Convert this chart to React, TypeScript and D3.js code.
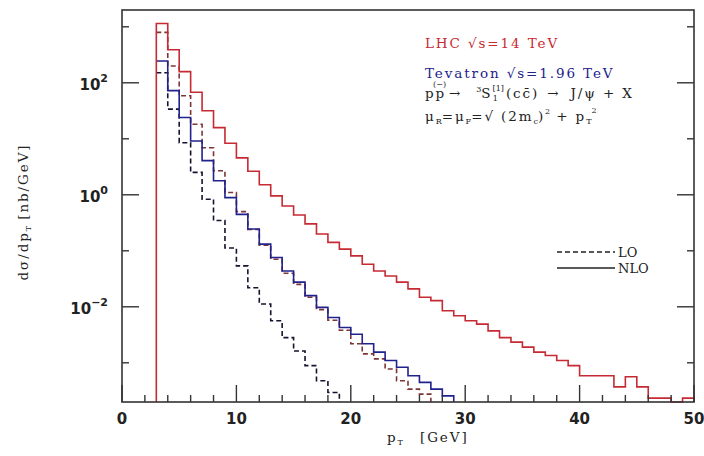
import React from 'react';
import * as d3 from 'd3';

// first bin starts at pT = 3 GeV, bins are 1 GeV wide
const binStart = 3;

// log10 of dσ/dpT [nb/GeV]
const lhcNlo = [3.06, 2.59, 2.2, 1.83, 1.5, 1.2, 0.92, 0.66, 0.42, 0.18, -0.02, -0.2, -0.36, -0.52, -0.7, -0.85, -0.97, -1.09, -1.24, -1.36, -1.45, -1.56, -1.68, -1.83, -1.89, -2.07, -2.16, -2.25, -2.31, -2.43, -2.55, -2.63, -2.72, -2.81, -2.87, -2.96, -3.05, -3.23, -3.23, -3.23, -3.43, -3.25, -3.43, -3.63, -3.63, -4.0, -3.63];
const lhcLo = [2.9, 2.3, 1.77, 1.26, 0.84, 0.43, 0.04, -0.3, -0.62, -0.9, -1.15, -1.4, -1.6, -1.83, -2.05, -2.24, -2.42, -2.66, -2.84, -2.93, -3.11, -3.32, -3.47, -3.56];
const tevNlo = [2.39, 1.86, 1.38, 0.96, 0.61, 0.25, -0.05, -0.35, -0.61, -0.88, -1.12, -1.36, -1.56, -1.8, -2.01, -2.19, -2.37, -2.49, -2.66, -2.81, -2.96, -3.08, -3.23, -3.35, -3.47, -3.59];
const tevLo = [2.18, 1.53, 0.93, 0.4, -0.08, -0.46, -0.95, -1.27, -1.66, -1.95, -2.25, -2.55, -2.79, -3.05, -3.32, -3.53];

const xMajor = [0, 10, 20, 30, 40, 50];
const xMinor = d3.range(2, 50, 2).filter(v => v % 10 !== 0);
const yMajor = [2, 0, -2];
const yMinor = [3, 1, -1, -3];

const W = 704, H = 456;
const L = 122, R = 694, T = 10, B = 402;

const RED = '#c62a32';
const BLUE = '#22228c';
const LHC_LO = '#7d3535';
const TEV_LO = '#141430';

const serif = '"DejaVu Serif", serif';
const sans = '"DejaVu Sans", sans-serif';

function App() {
  const x = d3.scaleLinear().domain([0, 50]).range([L, R]);
  const y = d3.scaleLog().domain([Math.pow(10, -3.7), Math.pow(10, 3.3)]).range([B, T]).clamp(true);

  const stepPath = (vals: number[], fromAxis: boolean) => {
    const pts: [number, number][] = fromAxis ? [[binStart, -10]] : [];
    vals.forEach((v, i) => pts.push([binStart + i, v]));
    pts.push([binStart + vals.length, -10]);
    const line = d3.line<[number, number]>()
      .x(d => x(d[0]))
      .y(d => y(Math.pow(10, d[1])))
      .curve(d3.curveStepAfter);
    return line(pts) || '';
  };

  const lbl = { fontFamily: serif, fontSize: 13.5, letterSpacing: 1.9 };
  const small = { fontSize: 8, letterSpacing: 0 };

  return (
    <svg width={W} height={H} style={{ position: 'absolute', left: 0, top: 0, background: '#fff' }}>
      <rect x={0} y={0} width={W} height={H} fill="#fff" />

      {/* histograms */}
      <g fill="none" strokeWidth={1.6}>
        <path d={stepPath(tevLo, false)} stroke={TEV_LO} strokeDasharray="5,3" />
        <path d={stepPath(lhcLo, false)} stroke={LHC_LO} strokeDasharray="5,3" />
        <path d={stepPath(tevNlo, false)} stroke={BLUE} />
        <path d={stepPath(lhcNlo, true)} stroke={RED} />
      </g>

      {/* frame */}
      <rect x={L} y={T} width={R - L} height={B - T} fill="none" stroke="#333" strokeWidth={1.6} />

      {/* ticks */}
      <g stroke="#333" strokeWidth={1.4}>
        {xMajor.map(v => <line key={'xm' + v} x1={x(v)} x2={x(v)} y1={B} y2={B - 17} />)}
        {xMinor.map(v => <line key={'xn' + v} x1={x(v)} x2={x(v)} y1={B} y2={B - 7} />)}
        {yMajor.map(v => (
          <g key={'ym' + v}>
            <line x1={L} x2={L + 17} y1={y(Math.pow(10, v))} y2={y(Math.pow(10, v))} />
            <line x1={R} x2={R - 17} y1={y(Math.pow(10, v))} y2={y(Math.pow(10, v))} />
          </g>
        ))}
        {yMinor.map(v => (
          <g key={'yn' + v}>
            <line x1={L} x2={L + 7} y1={y(Math.pow(10, v))} y2={y(Math.pow(10, v))} />
            <line x1={R} x2={R - 7} y1={y(Math.pow(10, v))} y2={y(Math.pow(10, v))} />
          </g>
        ))}
      </g>

      {/* tick labels */}
      <g fontFamily={sans} fontWeight="bold" fill="#222">
        {xMajor.map(v => (
          <text key={'xl' + v} x={x(v)} y={424} fontSize={15} textAnchor="middle">{v}</text>
        ))}
        {yMajor.map(v => (
          <text key={'yl' + v} x={108} y={y(Math.pow(10, v)) + 7} fontSize={15} textAnchor="end">
            10<tspan dy={-8} fontSize={11}>{v < 0 ? '\u2212' + Math.abs(v) : v}</tspan>
          </text>
        ))}
      </g>

      {/* axis titles */}
      <text transform="translate(28,212) rotate(-90)" textAnchor="middle" {...lbl} fill="#222">
        dσ/dp<tspan {...small} dy={3}>T</tspan><tspan dy={-3}>{'  [nb/GeV]'}</tspan>
      </text>
      <text x={387} y={442} {...lbl} fill="#222">
        p<tspan {...small} dy={3}>T</tspan><tspan dy={-3} x={420}>[GeV]</tspan>
      </text>

      {/* annotation */}
      <text x={425} y={48} {...lbl} fill={RED}>LHC √s=14 TeV</text>
      <text x={425} y={78} {...lbl} fill={BLUE}>Tevatron √s=1.96 TeV</text>
      <text x={425} y={98} {...lbl} fill="#222">
        pp
        <tspan {...small} dx={-13} dy={-11}>(−)</tspan>
        <tspan dx={3} dy={11}>→</tspan>
        <tspan {...small} dx={14} dy={-6}>3</tspan>
        <tspan dy={6}>S</tspan>
        <tspan {...small} dy={-7}>[1]</tspan>
        <tspan {...small} dx={-11} dy={10}>1</tspan>
        <tspan dx={8} dy={-3}>(cc̄)</tspan>
        <tspan dx={8}>→</tspan>
        <tspan dx={10}>J/ψ + X</tspan>
      </text>
      <text x={425} y={121} {...lbl} fill="#222">
        μ<tspan {...small} dy={3}>R</tspan>
        <tspan dy={-3}>=μ</tspan>
        <tspan {...small} dy={3}>F</tspan>
        <tspan dy={-3}>=√ (2m</tspan>
        <tspan {...small} dy={3}>c</tspan>
        <tspan dy={-3}>)</tspan>
        <tspan {...small} dy={-7}>2</tspan>
        <tspan dx={6} dy={7}>+ p</tspan>
        <tspan {...small} dy={3}>T</tspan>
        <tspan {...small} dy={-11}>2</tspan>
      </text>

      {/* LO / NLO legend */}
      <line x1={557} x2={615} y1={252} y2={252} stroke="#222" strokeWidth={1.4} strokeDasharray="5,3" />
      <line x1={557} x2={615} y1={268} y2={268} stroke="#222" strokeWidth={1.4} />
      <text x={618} y={257} fontFamily={serif} fontSize={13} fill="#222">LO</text>
      <text x={618} y={273} fontFamily={serif} fontSize={13} fill="#222">NLO</text>
    </svg>
  );
}

export default App;
